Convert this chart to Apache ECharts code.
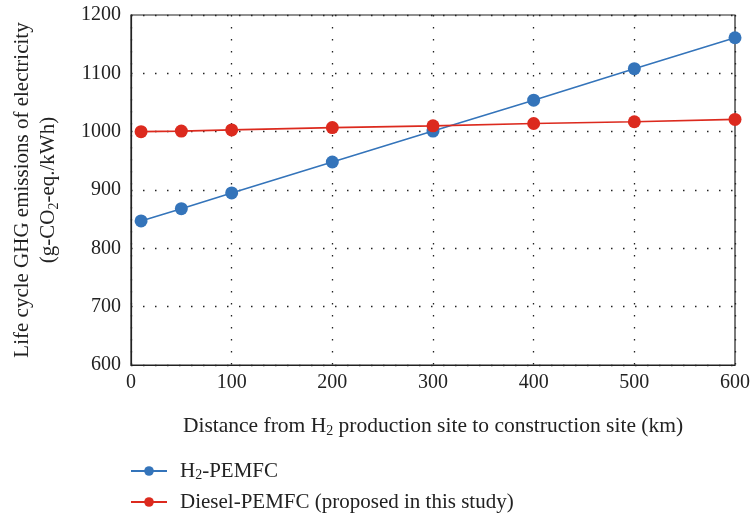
<!DOCTYPE html>
<html><head><meta charset="utf-8">
<script src="https://cdn.jsdelivr.net/npm/echarts@6/dist/echarts.min.js"></script>
<style>html,body{margin:0;padding:0;background:#fff}#c{width:753px;height:517px}</style>
</head><body><div id="c"></div>
<script>
const distances = [10, 50, 100, 200, 300, 400, 500, 600];
const h2Pemfc = [847, 868, 895, 948, 1001, 1054, 1108, 1161];
const dieselPemfc = [1000, 1001, 1003, 1007, 1010, 1014, 1017, 1021];
const seriesNames = ['H2-PEMFC', 'Diesel-PEMFC (proposed in this study)'];
const xTicks = [0, 100, 200, 300, 400, 500, 600];
const yTicks = [600, 700, 800, 900, 1000, 1100, 1200];

const FONT = '"Liberation Serif", "DejaVu Serif", serif';
const chart = echarts.init(document.getElementById('c'));
const sub = {sub: {fontSize: 14, verticalAlign: 'bottom', padding: [9, 0, 0, 0], fontFamily: FONT, color: '#222'}};
const dots = [1.5, 10.5];
chart.setOption({
  animation: false,
  textStyle: {fontFamily: FONT, color: '#222'},
  grid: {left: 131, right: 13, top: 15, bottom: 152, show: true, borderColor: '#222', borderWidth: 1.2, containLabel: false},
  xAxis: {
    type: 'value', min: xTicks[0], max: xTicks[xTicks.length - 1], interval: 100,
    axisLine: {show: true, lineStyle: {color: '#222', width: 1.2}},
    axisTick: {show: false},
    axisLabel: {fontSize: 20, color: '#222', margin: 8, fontFamily: FONT, formatter: v => String(v)},
    splitLine: {show: true, lineStyle: {color: '#222', type: dots, width: 1.3}},
    name: 'Distance from H{sub|2} production site to construction site (km)',
    nameLocation: 'middle', nameGap: 50,
    nameTextStyle: {fontSize: 21.5, color: '#222', fontFamily: FONT, rich: sub}
  },
  yAxis: {
    type: 'value', min: yTicks[0], max: yTicks[yTicks.length - 1], interval: 100,
    axisLine: {show: true, lineStyle: {color: '#222', width: 1.2}},
    axisTick: {show: false},
    axisLabel: {fontSize: 20, color: '#222', margin: 10, fontFamily: FONT, formatter: v => String(v)},
    splitLine: {show: true, lineStyle: {color: '#222', type: dots, width: 1.3}},
    name: 'Life cycle GHG emissions of electricity\n(g-CO{sub|2}-eq./kWh)',
    nameLocation: 'middle', nameGap: 70,
    nameTextStyle: {fontSize: 21, color: '#222', fontFamily: FONT, lineHeight: 26, rich: sub}
  },
  legend: {
    orient: 'vertical', left: 130, top: 460, height: 57, padding: 0, itemGap: 9, itemWidth: 36, itemHeight: 12,
    textStyle: {fontSize: 21, lineHeight: 22, color: '#222', fontFamily: FONT, padding: [0, 0, 0, 8], rich: sub},
    formatter: function (n) { return n === seriesNames[0] ? 'H{sub|2}-PEMFC' : n; },
    data: seriesNames
  },
  series: [
    {name: seriesNames[0], type: 'line', data: distances.map((d, i) => [d, h2Pemfc[i]]),
     symbol: 'circle', symbolSize: 13, color: '#3474BA', lineStyle: {width: 1.6, color: '#3474BA'}, z: 3},
    {name: seriesNames[1], type: 'line', data: distances.map((d, i) => [d, dieselPemfc[i]]),
     symbol: 'circle', symbolSize: 13, color: '#DC2A1E', lineStyle: {width: 1.6, color: '#DC2A1E'}, z: 4}
  ]
});
</script></body></html>
